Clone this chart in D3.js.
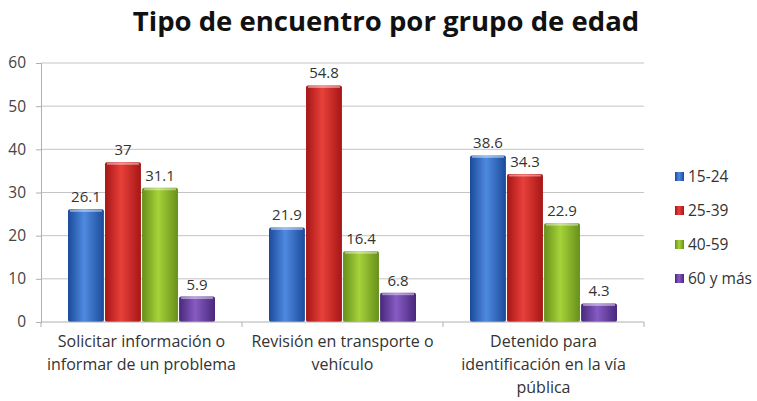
<!DOCTYPE html>
<html lang="es">
<head>
  <meta charset="utf-8">
  <title>Tipo de encuentro por grupo de edad</title>
  <script src="https://d3js.org/d3.v7.min.js"></script>
  <style>
    body { margin: 0; background: #fff; }
    #chart text { font-family: "Open Sans", "Noto Sans", sans-serif; fill: #333; }
  </style>
</head>
<body>
  <div id="chart"></div>
  <script>
    "use strict"

    var categorias = [
      ["Solicitar información o", "informar de un problema"],
      ["Revisión en transporte o", "vehículo"],
      ["Detenido para", "identificación en la vía", "pública"]
    ];
    var grupos = ["15-24", "25-39", "40-59", "60 y más"];
    var serie1524 = [26.1, 21.9, 38.6];
    var serie2539 = [37, 54.8, 34.3];
    var serie4059 = [31.1, 16.4, 22.9];
    var serie60 = [5.9, 6.8, 4.3];
    var ticksY = [0, 10, 20, 30, 40, 50, 60];

    var series = [serie1524, serie2539, serie4059, serie60];
    var colores = [
      ["#1b4a9a", "#4f8ae0"],
      ["#a51616", "#e8403a"],
      ["#66901a", "#a6d23a"],
      ["#48287c", "#865bc2"]
    ];

    var larguraSVG = 757, alturaSVG = 401;
    var margin = {top: 63, left: 41, right: 113, bottom: 79};
    var larguraVis = larguraSVG - margin.left - margin.right,
        alturaVis = alturaSVG - margin.top - margin.bottom;

    var svg = d3.select('#chart').append('svg')
      .attr('width', larguraSVG)
      .attr('height', alturaSVG);

    var defs = svg.append('defs');
    colores.forEach(function(c, i) {
      var g = defs.append('linearGradient').attr('id', 'grad' + i)
        .attr('x1', '0%').attr('x2', '100%').attr('y1', '0%').attr('y2', '0%');
      g.append('stop').attr('offset', '0%').attr('stop-color', c[0]);
      g.append('stop').attr('offset', '45%').attr('stop-color', c[1]);
      g.append('stop').attr('offset', '100%').attr('stop-color', c[0]);
    });

    svg.append('text')
      .attr('x', 386).attr('y', 31)
      .attr('text-anchor', 'middle')
      .style('font-size', '27.5px')
      .style('font-weight', 'bold')
      .style('fill', '#111')
      .text('Tipo de encuentro por grupo de edad');

    var grafico = svg.append('g')
      .attr('transform', 'translate(' + margin.left + ',' + margin.top + ')');

    var x0 = d3.scaleBand()
      .domain(d3.range(categorias.length))
      .range([0, larguraVis])
      .paddingInner(0).paddingOuter(0);

    var x1 = d3.scaleBand()
      .domain(d3.range(grupos.length))
      .range([27, x0.bandwidth() - 27])
      .paddingInner(0.03);

    var y = d3.scaleLinear().domain([0, 60]).range([alturaVis, 0]);

    // grade
    grafico.append('g')
      .selectAll('line')
      .data(ticksY.slice(1))
      .enter().append('line')
        .attr('x1', 0).attr('x2', larguraVis)
        .attr('y1', d => y(d)).attr('y2', d => y(d))
        .attr('stroke', '#c4c4c4').attr('stroke-width', 1);

    // eixo y
    var eixoY = grafico.append('g')
      .call(d3.axisLeft(y).tickValues(ticksY).tickSize(5).tickPadding(10));
    eixoY.select('.domain').attr('stroke', '#b0b0b0');
    eixoY.selectAll('.tick line').attr('stroke', '#b0b0b0');
    eixoY.selectAll('text').style('font-size', '15.5px').style('fill', '#444');

    // barras
    series.forEach(function(serie, i) {
      var g = grafico.append('g');
      g.selectAll('rect')
        .data(serie)
        .enter().append('rect')
          .attr('x', (d, j) => x0(j) + x1(i))
          .attr('y', d => y(d))
          .attr('width', x1.bandwidth())
          .attr('height', d => alturaVis - y(d))
          .attr('rx', 2)
          .attr('fill', 'url(#grad' + i + ')');
      g.selectAll('line')
        .data(serie)
        .enter().append('line')
          .attr('x1', (d, j) => x0(j) + x1(i) + 2)
          .attr('x2', (d, j) => x0(j) + x1(i) + x1.bandwidth() - 2)
          .attr('y1', d => y(d) + 1.5).attr('y2', d => y(d) + 1.5)
          .attr('stroke', 'rgba(255,255,255,0.45)').attr('stroke-width', 2);
      g.selectAll('text')
        .data(serie)
        .enter().append('text')
          .attr('x', (d, j) => x0(j) + x1(i) + x1.bandwidth() / 2)
          .attr('y', d => y(d) - 7)
          .attr('text-anchor', 'middle')
          .style('font-size', '15px')
          .text(d => d);
    });

    // eixo x
    grafico.append('line')
      .attr('x1', 0).attr('x2', larguraVis)
      .attr('y1', alturaVis).attr('y2', alturaVis)
      .attr('stroke', '#b0b0b0');
    grafico.append('g').selectAll('line')
      .data(d3.range(categorias.length + 1))
      .enter().append('line')
        .attr('x1', d => d * x0.bandwidth()).attr('x2', d => d * x0.bandwidth())
        .attr('y1', alturaVis).attr('y2', alturaVis + 5)
        .attr('stroke', '#b0b0b0');

    var rotulos = grafico.append('g').selectAll('text')
      .data(categorias)
      .enter().append('text')
        .attr('x', (d, j) => x0(j) + x0.bandwidth() / 2)
        .attr('y', alturaVis + 25)
        .attr('text-anchor', 'middle')
        .style('font-size', '16px');
    rotulos.selectAll('tspan')
      .data(d => d)
      .enter().append('tspan')
        .attr('x', function() { return d3.select(this.parentNode).attr('x'); })
        .attr('dy', (d, k) => k === 0 ? 0 : 23)
        .text(d => d);

    // legenda
    var legenda = svg.append('g').attr('transform', 'translate(675,172)');
    grupos.forEach(function(nome, i) {
      var item = legenda.append('g').attr('transform', 'translate(0,' + (i * 34) + ')');
      item.append('rect').attr('width', 9).attr('height', 9)
        .attr('fill', 'url(#grad' + i + ')');
      item.append('text').attr('x', 13).attr('y', 10)
        .style('font-size', '15.5px')
        .text(nome);
    });
  </script>
</body>
</html>
